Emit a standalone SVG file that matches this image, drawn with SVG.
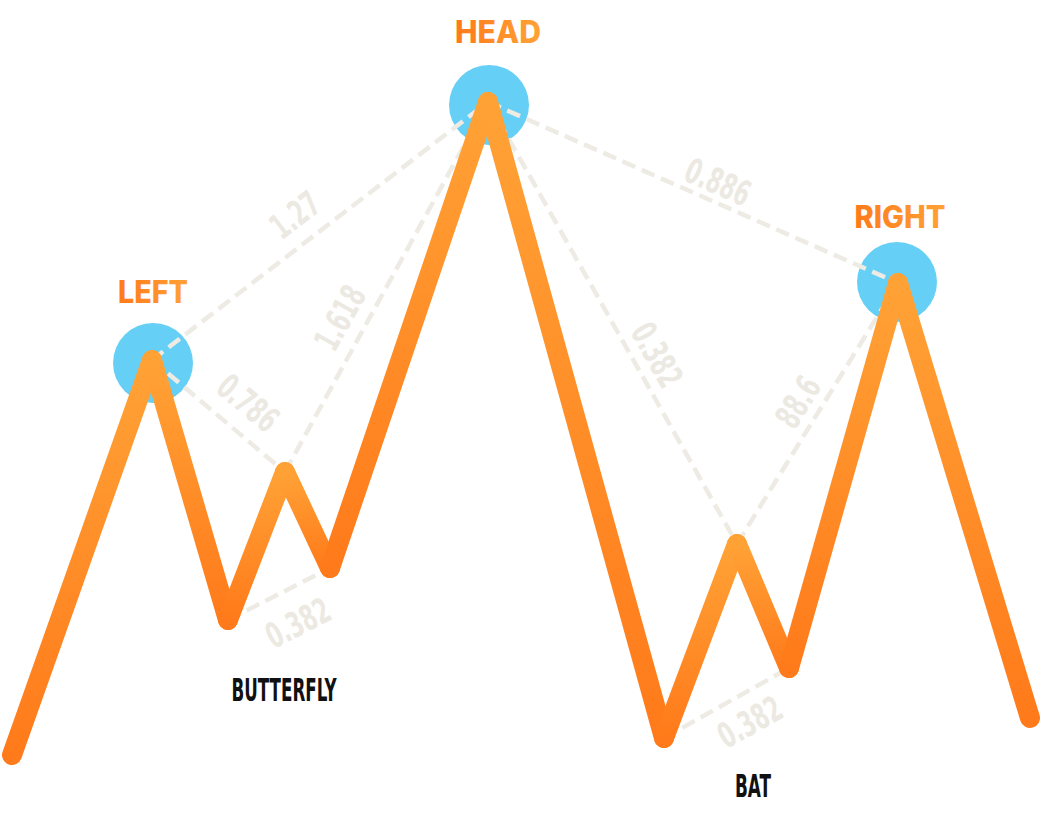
<svg xmlns="http://www.w3.org/2000/svg" width="1042" height="822" viewBox="0 0 1042 822">
<defs>
<linearGradient id="seg" x1="0" y1="0" x2="0" y2="1">
<stop offset="0" stop-color="#FFA236"/>
<stop offset="1" stop-color="#FF7A1A"/>
</linearGradient>
<linearGradient id="title" x1="0" y1="0" x2="1" y2="0">
<stop offset="0" stop-color="#FF7A1A"/>
<stop offset="1" stop-color="#FFA236"/>
</linearGradient>
<style>
.circ{fill:#66CFF5}
.dash{stroke:#EDEBE4;stroke-width:4.5;stroke-dasharray:14 7;fill:none}
.zz{stroke:url(#seg);stroke-width:20;stroke-linecap:round;fill:none}
.ratio{font-family:"DejaVu Sans Condensed","Liberation Sans Narrow","Liberation Sans",sans-serif;font-weight:bold;font-size:35px;fill:#ECE9E2;text-anchor:middle;dominant-baseline:central}
.title{font-family:Inter,"Open Sans","Liberation Sans",sans-serif;font-weight:800;font-size:31px;fill:url(#title);text-anchor:middle}
.name{font-family:"DejaVu Sans Condensed","Liberation Sans Narrow","Liberation Sans",sans-serif;font-weight:bold;font-size:32px;fill:#111;text-anchor:middle}
</style>
</defs>
<rect width="1042" height="822" fill="#fff"/>
<g id="left"><circle class="circ" cx="153" cy="363" r="40"/><text class="title" x="153" y="303" textLength="70" lengthAdjust="spacingAndGlyphs">LEFT</text></g>
<g id="head"><circle class="circ" cx="489" cy="105" r="40"/><text class="title" x="498" y="43" textLength="86" lengthAdjust="spacingAndGlyphs">HEAD</text></g>
<g id="right"><circle class="circ" cx="897" cy="282" r="40"/><text class="title" x="900" y="228" textLength="91" lengthAdjust="spacingAndGlyphs">RIGHT</text></g>
<g id="connectors">
<line class="dash" x1="152" y1="360" x2="488" y2="102"/>
<line class="dash" x1="152" y1="360" x2="285" y2="472"/>
<line class="dash" x1="285" y1="472" x2="488" y2="102"/>
<line class="dash" x1="228" y1="620" x2="330" y2="568"/>
<line class="dash" x1="488" y1="102" x2="898" y2="283"/>
<line class="dash" x1="488" y1="102" x2="737" y2="544"/>
<line class="dash" x1="737" y1="544" x2="898" y2="283"/>
<line class="dash" x1="664" y1="738" x2="789" y2="668"/>
</g>
<g id="ratios">
<text class="ratio" transform="translate(295,215) rotate(-37.5) scale(0.68,1)">1.27</text>
<text class="ratio" transform="translate(340,318) rotate(-61) scale(0.68,1)">1.618</text>
<text class="ratio" transform="translate(248,403) rotate(40) scale(0.68,1)">0.786</text>
<text class="ratio" transform="translate(298,623) rotate(-27) scale(0.68,1)">0.382</text>
<text class="ratio" transform="translate(718,182) rotate(24) scale(0.68,1)">0.886</text>
<text class="ratio" transform="translate(657,355) rotate(60.6) scale(0.68,1)">0.382</text>
<text class="ratio" transform="translate(798,402) rotate(-58) scale(0.68,1)">88.6</text>
<text class="ratio" transform="translate(750,722) rotate(-29) scale(0.68,1)">0.382</text>
</g>
<g id="zigzag">
<line class="zz" x1="152" y1="360" x2="12" y2="755"/>
<line class="zz" x1="152" y1="360" x2="228" y2="620"/>
<line class="zz" x1="285" y1="472" x2="228" y2="620"/>
<line class="zz" x1="285" y1="472" x2="330" y2="568"/>
<line class="zz" x1="488" y1="102" x2="330" y2="568"/>
<line class="zz" x1="488" y1="102" x2="664" y2="738"/>
<line class="zz" x1="737" y1="544" x2="664" y2="738"/>
<line class="zz" x1="737" y1="544" x2="789" y2="668"/>
<line class="zz" x1="898" y1="283" x2="789" y2="668"/>
<line class="zz" x1="898" y1="283" x2="1030" y2="718"/>
</g>
<g id="butterfly"><text class="name" x="284" y="701" textLength="105" lengthAdjust="spacingAndGlyphs">BUTTERFLY</text></g>
<g id="bat"><text class="name" x="753" y="797" textLength="36" lengthAdjust="spacingAndGlyphs">BAT</text></g>
</svg>
